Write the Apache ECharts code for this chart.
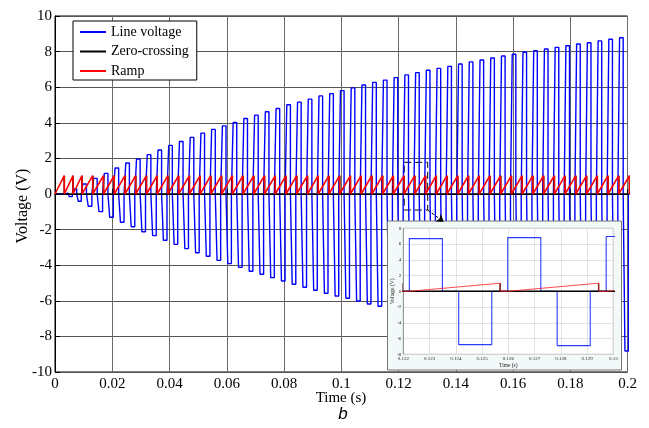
<!DOCTYPE html>
<html><head><meta charset="utf-8">
<script src="https://cdn.jsdelivr.net/npm/echarts@6/dist/echarts.min.js"></script>
<style>html,body{margin:0;padding:0;background:#fff}#c{width:649px;height:428px}</style>
</head><body><div id="c"></div>
<script>
// Ramp reset / zero-crossing instants (s)
const resetTimes = [0.00325, 0.00629,
  0.00944, 0.01319, 0.01694, 0.02069, 0.02444, 0.02819, 0.03194, 0.03569, 0.03944, 0.04319,
  0.04694, 0.05069, 0.05444, 0.05819, 0.06194, 0.06569, 0.06944, 0.07319, 0.07694, 0.08069,
  0.08444, 0.08819, 0.09194, 0.09569, 0.09944, 0.10319, 0.10694, 0.11069, 0.11444, 0.11819,
  0.12194, 0.12569, 0.12944, 0.13319, 0.13694, 0.14069, 0.14444, 0.14819, 0.15194, 0.15569,
  0.15944, 0.16319, 0.16694, 0.17069, 0.17444, 0.17819, 0.18194, 0.18569, 0.18944, 0.19319,
  0.19694, 0.20069];
// Positive pulse level of the line voltage in each cycle (V)
const posPeak = [0.05, 0.28,
  0.56, 0.88, 1.16, 1.46, 1.74, 1.96, 2.21, 2.47, 2.73, 2.95, 3.18, 3.42, 3.63, 3.83, 4.02,
  4.24, 4.43, 4.62, 4.80, 5.01, 5.16, 5.33, 5.51, 5.64, 5.81,
  5.96, 6.12, 6.27, 6.40, 6.54, 6.69, 6.82, 6.95, 7.06, 7.17, 7.30, 7.42, 7.53, 7.64, 7.75,
  7.85, 7.96, 8.05, 8.15, 8.24, 8.33, 8.43, 8.50, 8.60, 8.69, 8.78];
// Negative pulse level of the line voltage in each cycle (V)
const negPeak = [-0.15, -0.41, -0.69, -0.99, -1.31, -1.59, -1.84, -2.12, -2.34, -2.60, -2.83,
  -3.07, -3.30, -3.50, -3.73, -3.91, -4.12, -4.34, -4.51, -4.70, -4.89, -5.07, -5.24, -5.41,
  -5.58, -5.73, -5.86, -6.01, -6.18, -6.31,
  -6.46, -6.61, -6.77, -6.90, -7.02, -7.13, -7.24, -7.37, -7.49, -7.60, -7.71, -7.82, -7.92,
  -8.03, -8.12, -8.22, -8.31, -8.40, -8.50, -8.57, -8.67, -8.75, -8.82];
// Ramp / zero-crossing pulse height (V)
const rampPeak = 1.03;
// Switching instants inside a cycle, as fractions of the cycle
const posOn = 0.077, posOff = 0.413, negOn = 0.579, negOff = 0.915;
const seriesNames = ['Line voltage', 'Zero-crossing', 'Ramp'];

// Build polylines from the arrays
const lineV = [[0, 0]];
for (let n = 0; n < posPeak.length; n++) {
  const r = resetTimes[n], T = resetTimes[n + 1] - r;
  const a = r + posOn * T, b = r + posOff * T, c = r + negOn * T, d = r + negOff * T;
  lineV.push([a, 0], [a, posPeak[n]], [b, posPeak[n]], [b, 0],
             [c, 0], [c, negPeak[n]], [d, negPeak[n]], [d, 0]);
}
const ramp = [[0, 0], [resetTimes[0], rampPeak], [resetTimes[0], 0]];
for (let n = 0; n < resetTimes.length - 1; n++) {
  const r = resetTimes[n], nx = resetTimes[n + 1];
  ramp.push([r + posOn * (nx - r), 0], [nx, rampPeak], [nx, 0]);
}
const zc = [[0, 0]];
resetTimes.forEach(r => zc.push([r, 0], [r, rampPeak], [r, 0]));

const serif = '"Liberation Serif", "Times New Roman", serif';
const chart = echarts.init(document.getElementById('c'), null, {renderer: 'canvas'});

function mk(name, data, color, width, xi, z) {
  return {name, type: 'line', data, xAxisIndex: xi, yAxisIndex: xi, symbol: 'none',
    showSymbol: false, clip: true, z, silent: true, animation: false,
    lineStyle: {color, width}, itemStyle: {color}, emphasis: {disabled: true}};
}

const mainRamp = mk(seriesNames[2], ramp, '#ff0000', 1.6, 0, 2);
mainRamp.markArea = {silent: true, itemStyle: {color: 'rgba(0,0,0,0)', borderColor: '#000', borderWidth: 1, borderType: [7, 4]},
  data: [[{coord: [0.122, 1.78]}, {coord: [0.1302, -0.9]}]]};
mainRamp.markLine = {silent: true, symbol: ['none', 'arrow'], symbolSize: 7, label: {show: false},
  lineStyle: {color: '#000', width: 1, type: [3, 2]},
  data: [[{coord: [0.1302, -0.9]}, {coord: [0.1358, -1.56]}]]};

const option = {
  animation: false,
  backgroundColor: '#fff',
  grid: [
    {left: 55, top: 16, right: 21.5, bottom: 56, show: true, borderColor: '#000', borderWidth: 1, backgroundColor: '#fff'},
    {left: 403.3, top: 228.3, width: 210, height: 126, show: true, z: 6, backgroundColor: '#fff', borderColor: '#999', borderWidth: 0.8}
  ],
  xAxis: [
    {type: 'value', gridIndex: 0, min: 0, max: 0.2, interval: 0.02,
      axisLine: {show: true, lineStyle: {color: '#000', width: 1}},
      axisTick: {show: true, inside: true, length: 5, lineStyle: {color: '#000'}},
      splitLine: {show: true, lineStyle: {color: '#6a6a6a', width: 1}},
      axisLabel: {fontFamily: serif, fontSize: 15, color: '#000', margin: 5}},
    {type: 'value', gridIndex: 1, min: 0.122, max: 0.13, interval: 0.001, z: 7,
      axisLine: {show: true, lineStyle: {color: '#888', width: 0.8}},
      axisTick: {show: false},
      splitLine: {show: true, lineStyle: {color: '#dadada', width: 0.8}},
      axisLabel: {fontFamily: serif, fontSize: 5, color: '#222', margin: 2},
      name: 'Time (s)', nameLocation: 'middle', nameGap: 8, nameMoveOverlap: false,
      nameTextStyle: {fontFamily: serif, fontSize: 5.5, color: '#222'}}
  ],
  yAxis: [
    {type: 'value', gridIndex: 0, min: -10, max: 10, interval: 2,
      axisLine: {show: true, lineStyle: {color: '#000', width: 1}},
      axisTick: {show: true, inside: true, length: 5, lineStyle: {color: '#000'}},
      splitLine: {show: true, lineStyle: {color: '#555', width: 1}},
      axisLabel: {fontFamily: serif, fontSize: 15, color: '#000', margin: 3}},
    {type: 'value', gridIndex: 1, min: -8, max: 8, interval: 2, z: 7,
      axisLine: {show: true, lineStyle: {color: '#888', width: 0.8}},
      axisTick: {show: false},
      splitLine: {show: true, lineStyle: {color: '#dadada', width: 0.8}},
      axisLabel: {fontFamily: serif, fontSize: 5, color: '#222', margin: 2},
      name: 'Voltage (V)', nameLocation: 'middle', nameGap: 8, nameMoveOverlap: false,
      nameTextStyle: {fontFamily: serif, fontSize: 5.5, color: '#222'}}
  ],
  legend: {
    orient: 'vertical', left: 73, top: 21, itemWidth: 26, itemHeight: 14, itemGap: 5.5,
    padding: [4, 8, 2, 6], backgroundColor: '#fff', borderColor: '#000', borderWidth: 1, borderRadius: 0,
    itemStyle: {opacity: 0},
    textStyle: {fontFamily: serif, fontSize: 14, color: '#000'},
    data: seriesNames, selectedMode: false
  },
  graphic: [
    {type: 'rect', z: 5, silent: true, shape: {x: 387.5, y: 221, width: 234, height: 149},
      style: {fill: '#f3f9f9', stroke: '#777', lineWidth: 1}},
    {type: 'text', x: 23, y: 206, rotation: Math.PI / 2, silent: true,
      style: {text: 'Voltage (V)', font: '16px "Liberation Serif"', fill: '#000',
        textAlign: 'center', textVerticalAlign: 'middle', align: 'center', verticalAlign: 'middle'}},
    {type: 'text', x: 341, y: 398, silent: true,
      style: {text: 'Time (s)', font: '15px "Liberation Serif"', fill: '#000',
        textAlign: 'center', textVerticalAlign: 'middle', align: 'center', verticalAlign: 'middle'}},
    {type: 'text', x: 343, y: 414, silent: true,
      style: {text: 'b', font: 'italic 17px "Liberation Sans"', fill: '#000',
        textAlign: 'center', textVerticalAlign: 'middle', align: 'center', verticalAlign: 'middle'}}
  ],
  series: [
    mk(seriesNames[0], lineV, '#0000ff', 1.4, 0, 2),
    mk(seriesNames[1], zc, '#000000', 1.6, 0, 2),
    mainRamp,
    mk('inset-lv', lineV, '#2a3cff', 1.1, 1, 8),
    mk('inset-zc', zc, '#000000', 1.4, 1, 8),
    mk('inset-ramp', ramp, '#ff2020', 0.8, 1, 8)
  ]
};
chart.setOption(option);
</script></body></html>
